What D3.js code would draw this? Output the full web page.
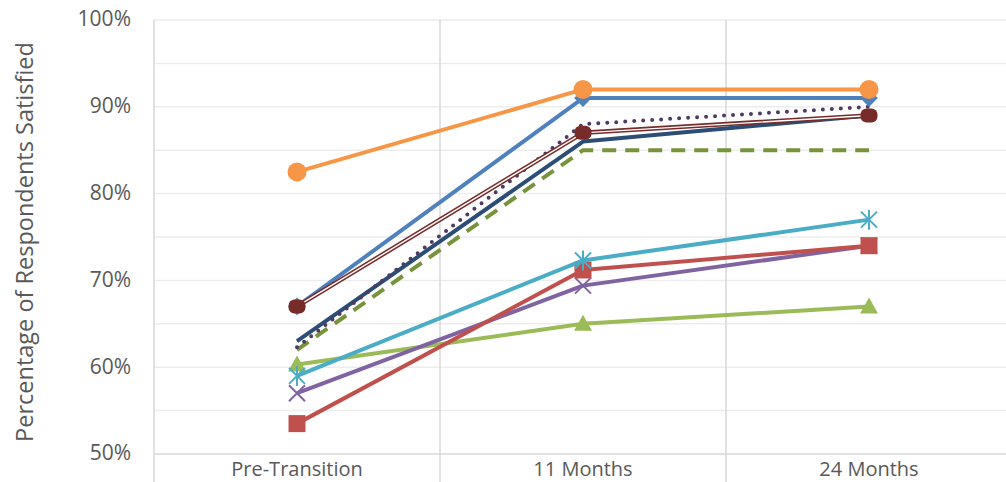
<!DOCTYPE html>
<html>
<head>
<meta charset="utf-8">
<script src="https://cdn.jsdelivr.net/npm/d3@7"></script>
<style>
  html, body { margin: 0; padding: 0; background: #fff; }
  svg { display: block; font-family: "Open Sans", Carlito, Calibri, sans-serif; }
</style>
</head>
<body>
<svg id="chart" width="1006" height="482"></svg>
<script>
// Survey waves along the x axis
const periods = ["Pre-Transition", "11 Months", "24 Months"];

// Share of respondents satisfied (%), one array per group
const orangeSeries = [82.5, 92, 92];
const blueSeries = [67, 91, 91];
const maroonSeries = [67, 87, 89];
const navySeries = [63, 86, 89];
const plumDotted = [62.3, 88, 90];
const oliveDashed = [62, 85, 85];
const greenSeries = [60.3, 65, 67];
const aquaSeries = [59, 72.3, 77];
const purpleSeries = [57, 69.4, 74];
const redSeries = [53.5, 71.2, 74];

const yTicks = [50, 60, 70, 80, 90, 100];
const yTitle = "Percentage of Respondents Satisfied";

const series = [
  { values: navySeries, color: "#2C4D75", marker: "none" },
  { values: oliveDashed, color: "#77933C", marker: "none", dash: "14,9" },
  { values: plumDotted, color: "#4D3B62", marker: "none", dash: "0,9", cap: "round", width: 4 },
  { values: greenSeries, color: "#9BBB59", marker: "triangle" },
  { values: purpleSeries, color: "#8064A2", marker: "x" },
  { values: redSeries, color: "#C0504D", marker: "square" },
  { values: aquaSeries, color: "#4BACC6", marker: "star" },
  { values: blueSeries, color: "#4F81BD", marker: "diamond" },
  { values: maroonSeries, color: "#772C2A", marker: "circleSmall", double: true },
  { values: orangeSeries, color: "#F79646", marker: "circle" }
];

const svg = d3.select("#chart");
const W = 1006, H = 482;
const margin = { left: 154, right: -6, top: 20, bottom: 28 };

const x = d3.scaleBand()
  .domain(periods)
  .range([margin.left, W - margin.right])
  .padding(0);

const y = d3.scaleLinear()
  .domain([50, 100])
  .range([H - margin.bottom, margin.top]);

const cx = d => x(d) + x.bandwidth() / 2;

// Horizontal gridlines every 5%
const minor = d3.range(55, 101, 5);
svg.append("g")
  .selectAll("line")
  .data(minor)
  .join("line")
  .attr("x1", margin.left)
  .attr("x2", W)
  .attr("y1", d => y(d))
  .attr("y2", d => y(d))
  .attr("stroke", "#EDEDED")
  .attr("stroke-width", 1.5);

// Category separators, running down through the label row
const bounds = periods.map(p => x(p));
svg.append("g")
  .selectAll("line")
  .data(bounds)
  .join("line")
  .attr("x1", d => d)
  .attr("x2", d => d)
  .attr("y1", y(100))
  .attr("y2", H)
  .attr("stroke", "#D9D9D9")
  .attr("stroke-width", 1.5);

// Category axis line
svg.append("line")
  .attr("x1", margin.left)
  .attr("x2", W)
  .attr("y1", y(50))
  .attr("y2", y(50))
  .attr("stroke", "#D9D9D9")
  .attr("stroke-width", 1.5);

// Y tick labels
const yAxis = d3.axisLeft(y)
  .tickValues(yTicks)
  .tickFormat(d => d + "%")
  .tickSize(0)
  .tickPadding(23);
const yg = svg.append("g")
  .attr("transform", `translate(${margin.left},0)`)
  .call(yAxis);
yg.select(".domain").remove();
yg.selectAll("text")
  .attr("font-size", 21)
  .attr("dy", "0.28em")
  .attr("fill", "#595959")
  .attr("font-family", "'Open Sans', sans-serif");

// X tick labels
const xAxis = d3.axisBottom(x).tickSize(0).tickPadding(8);
const xg = svg.append("g")
  .attr("transform", `translate(0,${y(50)})`)
  .call(xAxis);
xg.select(".domain").remove();
xg.selectAll("text")
  .attr("font-size", 20)
  .attr("fill", "#595959")
  .attr("font-family", "'Open Sans', sans-serif");

// Y axis title
svg.append("text")
  .attr("transform", `translate(33,${(y(50) + y(100)) / 2 + 5}) rotate(-90)`)
  .attr("text-anchor", "middle")
  .attr("font-size", 23.5)
  .attr("fill", "#595959")
  .text(yTitle);

const line = d3.line()
  .x((d, i) => cx(periods[i]))
  .y(d => y(d));

const layer = svg.append("g");

series.forEach(s => {
  const g = layer.append("g");
  g.append("path")
    .datum(s.values)
    .attr("d", line)
    .attr("fill", "none")
    .attr("stroke", s.color)
    .attr("stroke-width", s.width || (s.double ? 4.5 : 4))
    .attr("stroke-dasharray", s.dash || null)
    .attr("stroke-linecap", s.cap || "butt")
    .attr("stroke-linejoin", "round");
  if (s.double) {
    g.append("path")
      .datum(s.values)
      .attr("d", line)
      .attr("fill", "none")
      .attr("stroke", "#fff")
      .attr("stroke-width", 1.4);
  }
  const pts = s.values.map((v, i) => ({ px: cx(periods[i]), py: y(v) }));
  pts.forEach(p => {
    const m = g.append("g").attr("transform", `translate(${p.px},${p.py})`);
    switch (s.marker) {
      case "circle":
        m.append("circle").attr("r", 9.5).attr("fill", s.color);
        break;
      case "circleSmall":
        m.append("rect").attr("x", -8.5).attr("y", -7).attr("width", 17).attr("height", 14)
          .attr("rx", 6).attr("fill", s.color);
        break;
      case "diamond":
        m.append("path").attr("d", d3.symbol(d3.symbolDiamond2, 200)()).attr("fill", s.color);
        break;
      case "square":
        m.append("rect").attr("x", -8.5).attr("y", -8.5).attr("width", 17).attr("height", 17).attr("fill", s.color);
        break;
      case "triangle":
        m.append("path").attr("d", "M0,-9L9,7L-9,7Z").attr("fill", s.color);
        break;
      case "x":
        m.append("path").attr("d", "M-8,-8L8,8M-8,8L8,-8").attr("stroke", s.color).attr("stroke-width", 2);
        break;
      case "star":
        m.append("path").attr("d", "M-8,-8L8,8M-8,8L8,-8M0,-10L0,10").attr("stroke", s.color).attr("stroke-width", 2);
        break;
    }
  });
});
</script>
</body>
</html>
